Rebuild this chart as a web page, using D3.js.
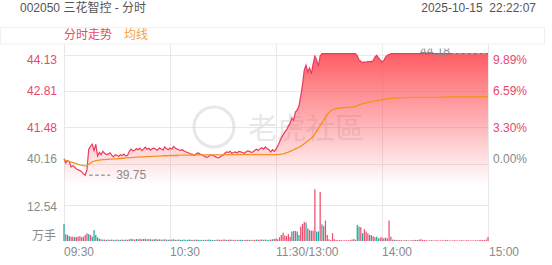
<!DOCTYPE html>
<html><head><meta charset="utf-8">
<script src="https://cdn.jsdelivr.net/npm/d3@7"></script>
<style>
body{margin:0;background:#fff}
svg{display:block}
text{font-family:"Liberation Sans",Arial,"Noto Sans CJK SC",sans-serif}
</style>
</head><body><svg id="c" width="552" height="265"></svg>
<script>
const title = "002050 三花智控 - 分时";
const stamp = "2025-10-15  22:22:07";
const legendLabels = ["分时走势", "均线"];
const watermark = "老虎社區";
const preClose = 40.16;
const priceTicks = [40.16, 41.48, 42.81, 44.13];
const pctTicks = ["0.00%", "3.30%", "6.59%", "9.89%"];
const volTick = 12.54;
const volUnit = "万手";
const timeLabels = ["09:30", "10:30", "11:30/13:00", "14:00", "15:00"];
const timeTickIdx = [0, 60, 120, 180, 240];

const price = [
40.35,40.20,40.28,40.25,40.05,40.10,40.05,39.98,39.95,39.92,39.88,39.80,39.75,39.95,40.70,40.80,40.88,40.65,40.88,40.45,40.58,
40.50,40.62,40.55,40.50,40.52,40.57,40.48,40.42,40.50,40.47,40.44,40.50,40.47,40.52,40.45,40.48,40.62,40.70,40.64,40.66,
40.72,40.68,40.74,40.65,40.70,40.77,40.70,40.73,40.66,40.72,40.74,40.70,40.66,40.75,40.71,40.67,40.78,40.72,40.68,40.74,
40.70,40.80,40.74,40.70,40.68,40.66,40.68,40.63,40.60,40.58,40.55,40.52,40.50,40.48,40.54,40.56,40.52,40.50,40.46,40.42,
40.40,40.44,40.50,40.48,40.45,40.42,40.38,40.40,40.45,40.48,40.55,40.60,40.58,40.62,40.55,40.58,40.60,40.56,40.62,40.60,
40.58,40.55,40.60,40.64,40.62,40.58,40.60,40.66,40.70,40.65,40.72,40.75,40.70,40.78,40.72,40.68,40.60,40.68,40.62,40.70,
40.82,40.96,41.11,41.22,41.33,41.40,41.54,41.65,41.83,41.76,42.05,42.13,42.27,42.64,43.04,43.58,43.76,43.51,43.66,43.44,43.80,44.09,43.95,43.73,44.09,44.18,
44.18,44.18,44.18,44.18,44.18,44.18,44.18,44.18,44.18,44.18,44.18,44.18,44.18,44.18,44.18,44.18,44.18,44.18,44.18,
44.10,43.95,43.90,43.85,43.88,43.86,43.90,43.88,43.90,43.92,44.05,44.12,44.02,43.95,43.88,43.92,44.05,44.12,44.15,
44.18,44.18,44.18,44.18,44.18,44.18,44.18,44.18,44.18,44.18,44.18,44.18,44.18,44.18,44.18,44.18,44.18,44.18,44.18,44.18,
44.18,44.18,44.18,44.18,44.18,44.18,44.18,44.18,44.18,44.18,44.18,44.18,44.18,44.18,44.18,44.18,44.18,44.18,44.18,44.18,
44.18,44.18,44.18,44.18,44.18,44.18,44.18,44.18,44.18,44.18,44.18,44.18,44.18,44.18,44.18,44.18
];

const avg = [
40.31,40.29,40.27,40.25,40.23,40.21,40.19,40.17,40.15,40.13,40.12,40.10,40.09,40.10,40.15,40.20,40.24,40.26,40.28,40.29,40.30,
40.31,40.32,40.32,40.33,40.33,40.34,40.34,40.35,40.35,40.35,40.36,40.36,40.37,40.37,40.38,40.38,40.39,40.39,40.40,40.40,
40.41,40.41,40.42,40.42,40.42,40.43,40.43,40.43,40.44,40.44,40.44,40.45,40.45,40.45,40.45,40.46,40.46,40.46,40.46,40.47,
40.47,40.47,40.47,40.47,40.48,40.48,40.48,40.48,40.48,40.48,40.48,40.48,40.48,40.49,40.49,40.49,40.49,40.49,40.49,40.49,
40.49,40.49,40.49,40.49,40.49,40.49,40.49,40.49,40.49,40.49,40.50,40.50,40.50,40.50,40.50,40.50,40.50,40.50,40.50,40.50,
40.50,40.50,40.50,40.50,40.50,40.50,40.50,40.50,40.50,40.50,40.50,40.50,40.50,40.50,40.50,40.50,40.50,40.50,40.50,40.50,
40.50,40.51,40.52,40.53,40.55,40.57,40.59,40.62,40.65,40.68,40.71,40.74,40.77,40.80,40.85,40.90,40.95,41.00,41.05,41.10,41.16,41.25,41.35,41.45,41.56,41.66,
41.76,41.86,41.96,42.04,42.10,42.14,42.16,42.18,42.19,42.20,42.20,42.21,42.21,42.22,42.22,42.23,42.23,42.24,42.25,
42.28,42.31,42.33,42.35,42.37,42.39,42.40,42.42,42.43,42.45,42.46,42.47,42.48,42.49,42.50,42.51,42.52,42.53,42.54,
42.55,42.55,42.56,42.56,42.57,42.57,42.57,42.58,42.58,42.58,
42.58,42.59,42.59,42.59,42.59,42.59,42.59,42.59,42.59,42.59,
42.59,42.59,42.59,42.59,42.59,42.59,42.59,42.59,42.59,42.59,
42.60,42.60,42.60,42.60,42.60,42.60,42.60,42.60,42.60,42.60,
42.60,42.60,42.60,42.60,42.60,42.60,42.60,42.60,42.60,42.60,
42.61,42.61,42.61,42.61,42.61,42.61
];

const volume = [
5.9,2.4,2.1,1.7,1.5,1.5,1.3,1.4,1.5,1.7,1.3,1.5,2.1,2.7,2.4,2.1,1.5,3.8,2.1,1.3,0.8,
0.6,0.5,0.5,0.4,0.5,0.4,0.5,0.4,0.4,0.5,0.4,0.4,0.5,0.4,0.5,0.4,0.6,0.8,0.6,0.5,
0.7,0.6,0.8,0.6,0.7,0.8,0.6,0.7,0.6,0.5,0.6,0.7,0.5,0.6,0.5,0.5,0.6,0.5,0.4,0.5,
0.5,0.6,0.4,0.4,0.5,0.4,0.4,0.5,0.4,0.4,0.5,0.4,0.4,0.4,0.5,0.4,0.4,0.3,0.4,0.4,
0.4,0.5,0.4,0.4,0.3,0.4,0.5,0.4,0.4,0.5,0.5,0.4,0.4,0.5,0.4,0.4,0.3,0.4,0.4,0.4,
0.4,0.3,0.4,0.4,0.4,0.3,0.4,0.4,0.5,0.4,0.5,0.5,0.4,0.5,0.4,0.4,0.5,0.6,0.7,0.9,
0.6,1.3,2.1,2.9,1.9,1.7,2.4,1.5,3.3,3.5,3.5,3.3,2.1,5.0,5.9,6.7,6.4,4.4,3.8,3.6,3.6,18.0,3.3,3.3,17.1,5.8,5.2,7.1,2.1,0.6,0.3,2.7,0.6,
0.4,0.3,0.3,0.3,0.2,0.3,0.2,0.3,0.3,0.5,0.7,0.4,
5.6,5.0,4.8,2.7,4.1,3.3,2.7,2.1,2.0,1.7,1.3,1.5,0.9,1.2,1.3,0.9,1.2,0.9,7.1,1.5,
0.5,0.4,0.4,0.3,0.3,0.3,0.2,0.3,0.3,0.2,
0.2,0.3,0.3,0.4,0.3,0.5,0.6,0.4,0.3,0.3,
0.2,0.2,0.3,0.2,0.2,0.3,0.2,0.2,0.3,0.2,
0.4,0.3,0.2,0.2,0.2,0.3,0.2,0.2,0.2,0.3,
0.2,0.2,0.3,0.2,0.2,0.2,0.2,0.3,0.2,0.3,
0.4,0.3,0.3,0.5,1.4
];

const volDir = ("dudduuduuu" + "duuududddd" + "dudududdud" + "udduduuudd" + "uduuduudud" +
  "ududdududd" + "ududdudddd" + "dddududddd" + "dudddduudu" + "uuduuduudu" +
  "dduudduuud" + "uududddudu" + "uuuuuuuuud" + "uudduuuduu" + "duudduduuu" +
  "uuuuuuuuuu" + "uuuuuuddud" + "uuudduuddu" + "uuduuuuduu" + "uuuuduuuuu" +
  "duuuuuuduu" + "uuuuuuuuuu" + "uuuuuuuuuu" + "uuuuuuuuuu" + "u").split("");

// ---------- drawing ----------
const svg = d3.select("#c");
const RED = "#e8476a", GRAY = "#8a8a8a", GRID = "#e8e8e8";
const LINE = "#ec3a5e", AVG = "#f5921f", UP = "#ee4d6d", DOWN = "#1fa59d";
const FONT = 12;

const x = d3.scaleLinear().domain([0, 240]).range([64, 488]);
const y = d3.scaleLinear().domain([preClose, priceTicks[3]]).range([164, 55]);
const vy = d3.scaleLinear().domain([0, volTick]).range([241, 205]);
const priceBottom = 183;

// header
svg.append("text").attr("x", 20).attr("y", 8).attr("dy", "0.35em")
  .attr("font-size", FONT).attr("fill", "#555").text(title);
svg.append("text").attr("x", 536).attr("y", 8).attr("dy", "0.35em").attr("text-anchor", "end")
  .attr("font-size", FONT).attr("fill", "#555").attr("xml:space", "preserve").style("white-space", "pre").text(stamp);
svg.append("rect").attr("x", 0.5).attr("y", 27.5).attr("width", 544).attr("height", 16.5)
  .attr("fill", "#fff").attr("stroke", "#f0f0f0");
svg.append("text").attr("x", 64).attr("y", 35).attr("dy", "0.35em")
  .attr("font-size", FONT).attr("fill", RED).text(legendLabels[0]);
svg.append("text").attr("x", 124).attr("y", 35).attr("dy", "0.35em")
  .attr("font-size", FONT).attr("fill", "#f5a03c").text(legendLabels[1]);

// grid
const grid = svg.append("g").attr("stroke", GRID).attr("stroke-width", 1).attr("shape-rendering", "crispEdges");
timeTickIdx.forEach(i => grid.append("line").attr("x1", x(i)).attr("x2", x(i)).attr("y1", 45).attr("y2", 242));
priceTicks.forEach(p => grid.append("line").attr("x1", x(0)).attr("x2", x(240)).attr("y1", y(p)).attr("y2", y(p)));
grid.append("line").attr("x1", x(0)).attr("x2", x(240)).attr("y1", vy(volTick)).attr("y2", vy(volTick));

// watermark
const wm = svg.append("g").attr("opacity", 0.55);
wm.append("circle").attr("cx", 214).attr("cy", 127).attr("r", 20).attr("fill", "none")
  .attr("stroke", "#d5d5d5").attr("stroke-width", 3);
wm.append("text").attr("x", 248).attr("y", 129).attr("dy", "0.35em").attr("font-size", 29)
  .attr("fill", "#d5d5d5").style("font-family", "'Noto Sans CJK TC','Noto Sans CJK SC',sans-serif").text(watermark);

// gradient fill
const defs = svg.append("defs");
const grad = defs.append("linearGradient").attr("id", "g").attr("gradientUnits", "userSpaceOnUse")
  .attr("x1", 0).attr("x2", 0).attr("y1", y(d3.max(price))).attr("y2", priceBottom);
grad.append("stop").attr("offset", 0).attr("stop-color", "#fd4f55").attr("stop-opacity", 0.92);
grad.append("stop").attr("offset", 0.55).attr("stop-color", "#fd5a62").attr("stop-opacity", 0.45);
grad.append("stop").attr("offset", 1).attr("stop-color", "#fd6a72").attr("stop-opacity", 0.02);

const area = d3.area().x((d, i) => x(i)).y0(priceBottom).y1(d => y(d));
svg.append("path").datum(price).attr("d", area).attr("fill", "url(#g)");

// volume bars
const bw = Math.max(1, (x(1) - x(0)) * 0.7);
svg.append("g").selectAll("rect").data(volume).join("rect")
  .attr("x", (d, i) => x(i) - bw / 2).attr("width", bw)
  .attr("y", d => vy(d)).attr("height", d => vy(0) - vy(d))
  .attr("fill", (d, i) => volDir[i] === "u" ? UP : DOWN);

// lines
const line = d3.line().x((d, i) => x(i)).y(d => y(d));
svg.append("path").datum(price).attr("d", line).attr("fill", "none").attr("stroke", LINE).attr("stroke-width", 1.2);
svg.append("path").datum(avg).attr("d", line).attr("fill", "none").attr("stroke", AVG).attr("stroke-width", 1.3);

// min / max markers
const minV = d3.min(price), maxV = d3.max(price);
const minI = price.indexOf(minV), maxI = price.lastIndexOf(maxV);
svg.append("line").attr("x1", x(minI) + 4).attr("x2", x(minI) + 25).attr("y1", y(minV)).attr("y2", y(minV))
  .attr("stroke", "#a0a0a0").attr("stroke-width", 1.5).attr("stroke-dasharray", "3.5,2.5");
svg.append("text").attr("x", x(minI) + 31).attr("y", y(minV)).attr("dy", "0.35em")
  .attr("font-size", FONT).attr("fill", GRAY).text(minV.toFixed(2));
defs.append("clipPath").attr("id", "topclip").append("rect").attr("x", 0).attr("y", 48.5).attr("width", 552).attr("height", 30);
svg.append("line").attr("x1", x(maxI) - 2).attr("x2", x(maxI) - 37).attr("y1", y(maxV)).attr("y2", y(maxV))
  .attr("stroke", "#a0a0a0").attr("stroke-width", 1.5).attr("stroke-dasharray", "3.5,2.5");
svg.append("text").attr("x", x(maxI) - 38).attr("y", 51).attr("dy", "0.35em").attr("text-anchor", "end")
  .attr("clip-path", "url(#topclip)")
  .attr("font-size", FONT).attr("fill", GRAY).text(maxV.toFixed(2));

// axis labels
const offs = [-5, 0, 0, 5];
priceTicks.forEach((p, i) => {
  const c = i === 0 ? GRAY : RED;
  svg.append("text").attr("x", 57).attr("y", y(p) + offs[i]).attr("dy", "0.35em").attr("text-anchor", "end")
    .attr("font-size", FONT).attr("fill", c).text(p.toFixed(2));
  svg.append("text").attr("x", 493).attr("y", y(p) + offs[i]).attr("dy", "0.35em")
    .attr("font-size", FONT).attr("fill", c).text(pctTicks[i]);
});
svg.append("text").attr("x", 57).attr("y", vy(volTick) + 2).attr("dy", "0.35em").attr("text-anchor", "end")
  .attr("font-size", FONT).attr("fill", GRAY).text(volTick.toFixed(2));
svg.append("text").attr("x", 56).attr("y", vy(0) - 5).attr("dy", "0.35em").attr("text-anchor", "end")
  .attr("font-size", FONT).attr("fill", GRAY).text(volUnit);
timeLabels.forEach((t, i) => {
  svg.append("text").attr("x", x(timeTickIdx[i]) + (i === 4 ? 1 : 0)).attr("y", 252).attr("dy", "0.35em")
    .attr("font-size", FONT).attr("fill", GRAY).text(t);
});
</script>
</body></html>
